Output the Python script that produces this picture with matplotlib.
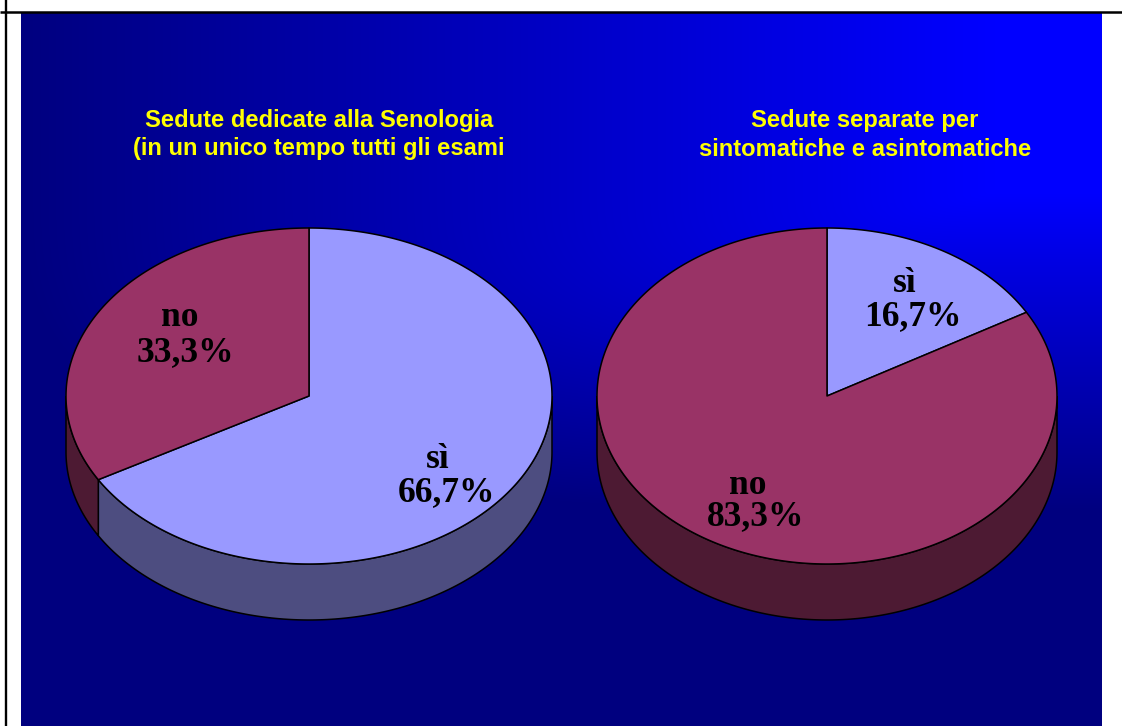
import numpy as np
import matplotlib
matplotlib.use("Agg")
import matplotlib.pyplot as plt
from matplotlib.patches import Polygon

W, H = 1122, 726
categories_left = ["sì", "no"]
values_left = [66.7, 33.3]
categories_right = ["sì", "no"]
values_right = [16.7, 83.3]
title_left = ["Sedute dedicate alla Senologia", "(in un unico tempo tutti gli esami"]
title_right = ["Sedute separate per", "sintomatiche e asintomatiche"]

TOP = {"sì": "#9999FF", "no": "#993366"}
SIDE = {"sì": "#4D4D80", "no": "#4D1A33"}

fig = plt.figure(figsize=(W / 100, H / 100), dpi=100, facecolor="white")
ax = fig.add_axes([0, 0, 1, 1])
ax.set_xlim(0, W)
ax.set_ylim(H, 0)
ax.axis("off")

# background gradient: navy edges towards a bright blue top-right corner
x0, x1, y0, y1 = 21, 1102, 13, 726
u = np.linspace(1, 0, 540)[None, :]
v = np.linspace(0, 1, 360)[:, None]
a = np.clip((u - 0.1) / 0.9, 0, None)
b = np.clip((v - 0.25) / 0.45, 0, None)
t = np.clip((a ** 3 + b ** 3) ** (1 / 3), 0, 1)
img = np.dstack([np.zeros_like(t), np.zeros_like(t), 1 - 0.5 * t])
ax.imshow(img, extent=[x0, x1, y1, y0], aspect="auto", zorder=0, interpolation="bilinear")
ax.set_xlim(0, W)
ax.set_ylim(H, 0)

ax.plot([0, W], [12, 12], color="black", lw=1.8, zorder=1, solid_capstyle="butt")
ax.plot([6.2, 6.2], [0, H], color="black", lw=1.7, zorder=1, solid_capstyle="butt")


def pie3d(cx, cy, rx, ry, depth, cats, vals):
    total = sum(vals)
    start = 0.0
    spans = []
    for c, val in zip(cats, vals):
        end = start + 360.0 * val / total
        spans.append((c, start, end))
        start = end
    for c, a, b in spans:
        a2, b2 = max(a, 90), min(b, 270)
        if b2 > a2:
            th = np.linspace(a2, b2, 200)
            xs = cx + rx * np.sin(np.radians(th))
            ys = cy - ry * np.cos(np.radians(th))
            pts = np.r_[np.c_[xs, ys], np.c_[xs, ys + depth][::-1]]
            ax.add_patch(Polygon(pts, closed=True, fc=SIDE[c], ec="black", lw=1.1, zorder=2))
    for c, a, b in spans:
        th = np.linspace(a, b, 300)
        xs = cx + rx * np.sin(np.radians(th))
        ys = cy - ry * np.cos(np.radians(th))
        pts = np.r_[[[cx, cy]], np.c_[xs, ys]]
        ax.add_patch(Polygon(pts, closed=True, fc=TOP[c], ec="black", lw=1.1, zorder=3, joinstyle="round"))


pie3d(309, 396, 243, 168, 56, categories_left, values_left)
pie3d(827, 396, 230, 168, 56, categories_right, values_right)


def pct(v):
    return f"{v:.1f}%".replace(".", ",")


label_font = dict(family="Liberation Serif", weight="bold", fontsize=25.5, color="black",
                  ha="center", va="center", zorder=5)
label_pos_left = [(438, 460, 446.5, 493), (180, 318, 185.5, 353)]
label_pos_right = [(905, 284, 913, 317), (748, 485, 755.5, 517)]
for cats, vals, poss in [(categories_left, values_left, label_pos_left),
                         (categories_right, values_right, label_pos_right)]:
    for c, val, (xa, ya, xb, yb) in zip(cats, vals, poss):
        ax.text(xa, ya, c, **label_font)
        ax.text(xb, yb, pct(val), **label_font)

title_font = dict(family="Liberation Sans", weight="bold", fontsize=17.1, color="#FFFF00",
                  ha="center", va="center", zorder=5)
for i, s in enumerate(title_left):
    ax.text(319, 120 + 29 * i, s, **title_font)
for i, s in enumerate(title_right):
    ax.text(865, 120 + 29 * i, s, **title_font)

fig.savefig("out.png", dpi=100, facecolor="white")
